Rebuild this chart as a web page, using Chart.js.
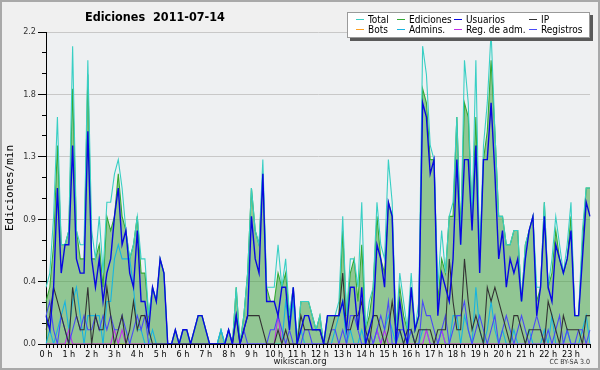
<!DOCTYPE html>
<html>
<head>
<meta charset="utf-8">
<script src="https://cdn.jsdelivr.net/npm/chart.js@4"></script>
<style>
  body { margin: 0; background: #f0f0f0; }
  #wrap { position: relative; width: 600px; height: 370px; background: #f0f0f0; overflow: hidden; }
  #frame { position: absolute; left: 0; top: 0; right: 0; bottom: 0; border: 2px solid #a9a9a9; pointer-events: none; }
  canvas { position: absolute; left: 0; top: 0; }
  .txt { position: absolute; font-family: "DejaVu Sans Condensed", "Liberation Sans", sans-serif; color: #000; white-space: pre; }
  #title { left: 85px; top: 9px; font-size: 12.5px; font-weight: bold; }
  #site { left: 0; width: 600px; top: 355px; text-align: center; font-size: 9.5px; color: #222; }
  #lic { right: 10px; top: 358px; font-size: 7px; color: #333; }
  #legend { position: absolute; left: 347px; top: 12px; width: 243px; height: 26px; box-sizing: border-box;
            background: #fff; border: 1px solid #9a9a9a; box-shadow: 3px 3px 0 #5a5a5a;
            display: grid; grid-template-columns: 41px 57px 75px auto; grid-auto-rows: 9.5px;
            padding: 2px 0 0 8px; font-family: "DejaVu Sans Condensed", "Liberation Sans", sans-serif; font-size: 10px; }
  #legend .item { display: flex; align-items: center; white-space: nowrap; line-height: 9.5px; }
  #legend .line { display: inline-block; width: 8px; height: 1px; margin-right: 4px; }
</style>
</head>
<body>
<div id="wrap">
  <canvas id="chart" width="600" height="370"></canvas>
  <div id="title" class="txt">Ediciones  2011-07-14</div>
  <div id="legend"></div>
  <div id="site" class="txt">wikiscan.org</div>
  <div id="lic" class="txt">CC BY-SA 3.0</div>
  <div id="frame"></div>
</div>
<script>
// tick labels
const hourLabels = ['0 h', '1 h', '2 h', '3 h', '4 h', '5 h', '6 h', '7 h', '8 h', '9 h', '10 h', '11 h',
  '12 h', '13 h', '14 h', '15 h', '16 h', '17 h', '18 h', '19 h', '20 h', '21 h', '22 h', '23 h'];
const minutes = ['00', '10', '20', '30', '40', '50'];
const times = hourLabels.flatMap(h => minutes.map(m => parseInt(h) + ':' + m));

const yTicks = [0, 0.1467, 0.2933, 0.44, 0.5867, 0.7333, 0.88, 1.0267, 1.1733, 1.32, 1.4667, 1.6133, 1.76, 1.9067, 2.0533, 2.2];
const yTickLabels = ['0.0', '', '', '0.4', '', '', '0.9', '', '', '1.3', '', '', '1.8', '', '', '2.2'];

// edits per minute, 10 minute steps (one row = 2 hours)
const total = [
  0.4,0.5,0.9,1.6,0.7,0.7, 0.8,2.1,0.8,0.7,0.7,2.0,
  0.8,0.6,0.9,0.5,1.0,1.0, 1.2,1.3,1.1,0.8,0.6,0.7,
  0.9,0.6,0.6,0.2,0.4,0.3, 0.6,0.5,0,0,0.1,0,
  0.1,0.1,0,0.1,0.2,0.2, 0.1,0,0,0,0.1,0,
  0.1,0,0.4,0,0.2,0.5, 1.1,0.8,0.7,1.3,0.4,0.4,
  0.4,0.7,0.4,0.6,0.2,0.4, 0,0.3,0.3,0.3,0.2,0.1,
  0.2,0,0.2,0.2,0.2,0.3, 0.9,0.2,0.6,0.6,0.4,1.0,
  0.1,0.3,0.4,1.0,0.7,0.6, 1.3,1.0,0.1,0.5,0.3,0.1,
  0.5,0.1,0.3,2.1,1.9,1.4, 1.3,0.4,0.8,0.5,0.9,1.0,
  1.6,0.7,2.0,1.7,0.9,2.0, 0.6,1.4,1.7,2.2,1.5,0.9,
  0.9,0.7,0.7,0.8,0.8,0.3, 0.7,0.8,0.9,0.4,0.4,1.0,
  0.4,0.6,0.9,0.7,0.5,0.7, 1.0,0.2,0.2,0.8,1.1,1.1
];
const ediciones = [
  0.3,0.4,0.7,1.4,0.7,0.7, 0.8,1.8,0.8,0.6,0.6,1.9,
  0.6,0.6,0.7,0.4,0.9,0.8, 0.9,1.2,0.9,0.8,0.6,0.7,
  0.9,0.5,0.5,0.2,0.4,0.3, 0.6,0.5,0,0,0.1,0,
  0.1,0.1,0,0.1,0.2,0.2, 0.1,0,0,0,0.1,0,
  0.1,0,0.4,0,0.2,0.5, 1.1,0.8,0.7,1.2,0.4,0.3,
  0.3,0.5,0.4,0.5,0.2,0.4, 0,0.3,0.3,0.3,0.2,0.1,
  0.2,0,0.2,0.2,0.2,0.2, 0.8,0.2,0.5,0.6,0.3,0.7,
  0.1,0.2,0.4,0.9,0.6,0.5, 1.0,0.9,0.1,0.4,0.2,0.1,
  0.4,0.1,0.2,1.8,1.7,1.3, 1.3,0.3,0.6,0.5,0.9,0.9,
  1.6,0.8,1.7,1.6,0.9,1.6, 0.6,1.3,1.5,2.0,1.5,0.9,
  0.9,0.7,0.7,0.8,0.8,0.3, 0.7,0.8,0.9,0.3,0.4,1.0,
  0.4,0.5,0.8,0.6,0.5,0.6, 0.9,0.2,0.2,0.7,1.1,1.1
];
const usuarios = [
  0.2,0.1,0.4,1.1,0.5,0.7, 0.7,1.4,0.6,0.5,0.5,1.5,
  0.6,0.4,0.6,0.3,0.5,0.6, 0.9,1.1,0.7,0.8,0.5,0.4,
  0.8,0.3,0.3,0.1,0.4,0.3, 0.6,0.5,0,0,0.1,0,
  0.1,0.1,0,0.1,0.2,0.2, 0.1,0,0,0,0,0,
  0.1,0,0.2,0,0.1,0.2, 0.9,0.6,0.5,1.2,0.3,0.3,
  0.3,0.2,0.4,0.4,0.1,0.4, 0,0.1,0.2,0.2,0.1,0.1,
  0.1,0,0.2,0.2,0.2,0.2, 0.3,0.1,0.4,0.4,0.1,0.4,
  0,0.1,0.2,0.7,0.6,0.4, 1.0,0.9,0,0.3,0.1,0,
  0.4,0.1,0.2,1.7,1.6,1.2, 1.3,0.2,0.5,0.4,0.3,0.6,
  1.3,0.7,1.3,1.3,0.8,1.4, 0.5,1.3,1.3,1.7,1.2,0.6,
  0.8,0.4,0.6,0.5,0.6,0.3, 0.6,0.8,0.9,0.2,0.4,0.9,
  0.4,0.3,0.7,0.6,0.5,0.6, 0.8,0.2,0.2,0.6,1.0,0.9
];
const ip = [
  0.1,0.2,0.4,0.3,0.2,0.1, 0,0.4,0.2,0.1,0.1,0.4,
  0,0.2,0.1,0.1,0.4,0.2, 0,0.1,0.2,0,0.1,0.3,
  0.1,0.2,0.2,0.1,0,0, 0,0,0,0,0,0,
  0,0,0,0,0,0, 0,0,0,0,0,0,
  0,0,0.2,0,0.1,0.2, 0.2,0.2,0.2,0.1,0,0,
  0,0.1,0,0.1,0,0, 0,0.2,0.1,0.1,0.1,0.1,
  0.1,0,0,0.1,0.2,0.2, 0.5,0.1,0.1,0.2,0.2,0.3,
  0.1,0,0.2,0.2,0.1,0, 0.1,0.3,0.1,0.1,0,0.1,
  0.1,0,0.1,0.1,0.1,0.1, 0,0.1,0.1,0.1,0.6,0.3,
  0.1,0.1,0.6,0.3,0.1,0.2, 0.1,0,0.4,0.3,0.4,0.3,
  0.2,0.1,0,0.2,0.2,0.1, 0,0.1,0.1,0.1,0.1,0,
  0.3,0.2,0.1,0,0.2,0.1, 0.1,0.1,0.1,0,0.2,0.2
];
const bots = [
  0,0,0,0,0,0, 0,0,0,0,0,0,
  0,0,0,0,0,0, 0,0,0,0,0,0,
  0,0,0,0,0,0, 0,0,0,0,0,0,
  0,0,0,0,0,0, 0,0,0,0,0,0,
  0,0,0,0,0,0, 0,0,0,0,0,0,
  0,0,0,0,0,0, 0,0,0,0,0,0,
  0,0,0,0,0,0, 0,0,0,0,0,0,
  0,0,0,0,0,0, 0,0,0,0,0,0,
  0,0,0,0,0,0, 0,0,0,0,0,0,
  0,0,0,0,0,0, 0,0,0,0,0,0,
  0,0,0,0,0,0, 0,0,0,0,0,0,
  0,0,0,0,0,0, 0,0,0,0,0,0
];
const admins = [
  0,0.1,0,0.1,0.2,0.3, 0.1,0.3,0.4,0.2,0,0.2,
  0.2,0.2,0.2,0,0.3,0.3, 0.6,0.7,0.6,0.6,0.6,0.4,
  0.1,0.1,0,0,0.1,0, 0,0,0,0,0,0,
  0,0,0,0,0,0, 0,0,0,0,0.1,0,
  0,0,0,0,0,0, 0,0,0,0,0,0,
  0,0,0,0.3,0.1,0.3, 0,0.1,0,0,0,0,
  0,0,0,0,0.1,0.2, 0.3,0,0.1,0,0,0.1,
  0,0,0,0.1,0,0.1, 0.2,0.1,0,0.1,0,0,
  0.1,0,0,0.1,0.1,0, 0,0,0.1,0,0,0.2,
  0.2,0,0.2,0.1,0,0.4, 0.1,0,0.1,0.3,0.1,0,
  0.1,0,0,0.1,0,0, 0,0.1,0,0,0,0.1,
  0,0.2,0,0,0,0.1, 0,0,0,0.1,0.2,0
];
const regAdm = [
  0,0,0,0,0,0, 0.1,0,0,0,0,0,
  0,0,0,0,0,0, 0.1,0,0.1,0,0,0,
  0,0,0,0,0,0, 0,0,0,0,0,0,
  0,0,0,0,0,0, 0,0,0,0,0,0,
  0,0,0,0,0,0, 0,0,0,0,0,0,
  0,0.2,0,0,0,0, 0,0,0,0,0,0,
  0,0,0,0,0,0, 0,0,0,0,0,0,
  0,0,0,0.1,0,0.1, 0,0,0,0,0,0,
  0,0,0,0,0.1,0, 0,0,0.1,0,0,0,
  0,0,0,0,0,0, 0,0,0,0,0,0,
  0,0,0,0,0,0, 0,0,0,0,0,0,
  0,0,0,0,0,0, 0,0,0,0,0,0
];
const registros = [
  0.2,0.3,0.1,0,0.2,0.1, 0,0.1,0.2,0.1,0.2,0.1,
  0.1,0.2,0.1,0.2,0.1,0.2, 0.1,0.1,0.2,0.1,0,0.1,
  0.2,0.1,0.2,0,0,0, 0,0,0,0,0,0,
  0,0,0,0,0,0, 0,0,0,0,0,0,
  0.1,0,0,0,0.1,0, 0,0,0,0,0,0.1,
  0.1,0.2,0.1,0,0.1,0, 0,0,0.1,0.1,0,0,
  0,0,0,0.1,0.1,0, 0.1,0,0.2,0.2,0.1,0,
  0,0.1,0,0.1,0.2,0.1, 0.3,0,0,0.1,0.1,0,
  0.1,0,0,0.3,0.2,0.2, 0.1,0,0.1,0.2,0,0.1,
  0.2,0.2,0.3,0.1,0,0.1, 0.2,0.1,0,0.1,0.2,0,
  0.1,0.2,0.1,0,0.1,0.2, 0.1,0,0.1,0.2,0.1,0,
  0.1,0,0.1,0.2,0,0.1, 0,0,0.1,0.1,0,0.1
];

const FONT = '"DejaVu Sans Condensed", "Liberation Sans", sans-serif';

// legend order; lower "order" is drawn on top
const series = [
  { label: 'Total', data: total, color: '#38cfc4', order: 6, width: 1.1 },
  { label: 'Ediciones', data: ediciones, color: '#34aa34', order: 7, width: 1.1, fill: 'rgba(60,160,60,0.52)' },
  { label: 'Usuarios', data: usuarios, color: '#0808e0', order: 0, width: 1.4 },
  { label: 'IP', data: ip, color: '#333333', order: 1, width: 1.1 },
  { label: 'Bots', data: bots, color: '#ffa020', order: 8, width: 1 },
  { label: 'Admins.', data: admins, color: '#18b4e0', order: 4, width: 1.1 },
  { label: 'Reg. de adm.', data: regAdm, color: '#c030e8', order: 3, width: 1.1 },
  { label: 'Registros', data: registros, color: '#4a4af6', order: 2, width: 1.1 }
];

const plotBg = {
  id: 'plotBg',
  beforeDraw(chart) {
    const { ctx, chartArea: a } = chart;
    ctx.save();
    ctx.fillStyle = '#eef0f2';
    ctx.fillRect(a.left, a.top, a.right - a.left, a.bottom - a.top);
    ctx.restore();
  }
};

new Chart(document.getElementById('chart'), {
  type: 'line',
  data: {
    labels: times,
    datasets: series.map(s => ({
      label: s.label,
      data: s.data,
      borderColor: s.color,
      backgroundColor: s.fill || s.color,
      fill: s.fill ? 'origin' : false,
      order: s.order,
      borderWidth: s.width,
      pointRadius: 0,
      tension: 0
    }))
  },
  options: {
    responsive: false,
    animation: false,
    devicePixelRatio: 1,
    layout: { padding: { left: 0, top: 32, right: 10, bottom: 0 } },
    plugins: { legend: { display: false }, tooltip: { enabled: false } },
    scales: {
      x: {
        type: 'category',
        z: 1,
        offset: false,
        grid: { drawOnChartArea: false, tickLength: 4, tickColor: '#000', offset: false },
        border: { color: '#000' },
        ticks: {
          autoSkip: false, maxRotation: 0, minRotation: 0, padding: 1, color: '#000',
          font: { family: FONT, size: 9 },
          callback: (v, i) => i % 6 === 0 ? hourLabels[i / 6] : ''
        },
        afterFit: s => { s.height = 26; }
      },
      y: {
        min: 0,
        max: 2.2,
        afterBuildTicks: s => { s.ticks = yTicks.map(v => ({ value: v })); },
        ticks: {
          padding: 2, color: '#333',
          font: { family: FONT, size: 9 },
          callback: (v, i) => yTickLabels[i]
        },
        grid: {
          color: c => yTickLabels[c.index] ? '#c8c8c8' : 'rgba(0,0,0,0)',
          tickColor: '#000',
          tickLength: 8,
          tickBorderDash: c => yTickLabels[c.index] ? [] : [0, 4, 4, 0]
        },
        border: { color: '#000' },
        title: {
          display: true, text: 'Ediciones/min', color: '#000',
          font: { family: '"DejaVu Sans Mono", monospace', size: 11 },
          padding: { top: 4, bottom: 0 }
        },
        afterFit: s => { s.width = 46; }
      }
    }
  },
  plugins: [plotBg]
});

// legend, 4 columns x 2 rows
const legendDiv = document.getElementById('legend');
legendDiv.innerHTML = series.map(s =>
  `<div class="item"><span class="line" style="background:${s.color}"></span>${s.label}</div>`).join('');
</script>
</body>
</html>
